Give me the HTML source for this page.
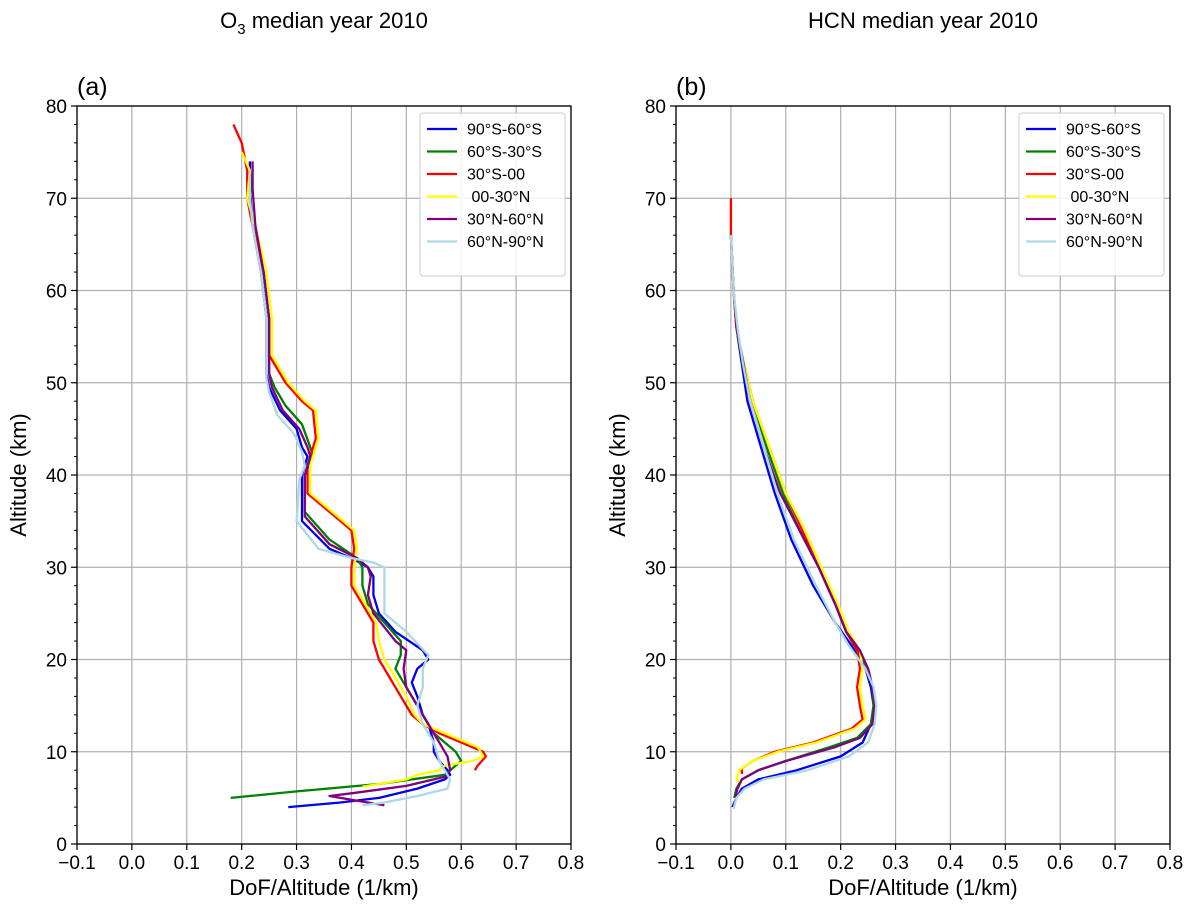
<!DOCTYPE html>
<html><head><meta charset="utf-8">
<style>
html,body{margin:0;padding:0;background:#fff;}
svg text{font-family:"Liberation Sans",sans-serif;fill:#000;}
</style></head>
<body>
<svg id="fig" width="1198" height="914" viewBox="0 0 1198 914" xmlns="http://www.w3.org/2000/svg"></svg>
<script>
// ---- data ----
const seriesNames = ["90°S-60°S","60°S-30°S","30°S-00","\u00a000-30°N","30°N-60°N","60°N-90°N"];
const seriesColors = ["#0000ee","#008000","#ff0000","#ffff00","#800080","#add8e6"];
const xTicks = [-0.1,0,0.1,0.2,0.3,0.4,0.5,0.6,0.7,0.8];
const yTicks = [0,10,20,30,40,50,60,70,80];
const o3Blue = [[0.215,74],[0.215,71],[0.22,67],[0.235,62],[0.245,57],[0.245,51],[0.25,49.5],[0.27,47],[0.30,45],[0.31,43],[0.32,42],[0.31,40],[0.31,35],[0.36,32],[0.40,31],[0.43,30],[0.44,29],[0.44,27],[0.45,25],[0.48,23],[0.53,21],[0.54,20],[0.52,19],[0.51,17.5],[0.52,16],[0.53,14],[0.54,13],[0.55,11],[0.55,10],[0.56,9],[0.575,8],[0.58,7.5],[0.57,7],[0.52,6],[0.45,5],[0.38,4.5],[0.285,4]];
const o3Green = [[0.22,73],[0.215,70],[0.22,67],[0.24,62],[0.25,57],[0.25,51],[0.26,49.5],[0.28,47.5],[0.31,45.5],[0.325,43],[0.33,42],[0.315,40],[0.315,36],[0.36,33],[0.41,31],[0.42,30],[0.42,28],[0.43,26],[0.46,24],[0.49,22],[0.49,20.5],[0.48,19],[0.50,17],[0.52,15],[0.54,13],[0.55,12],[0.57,11],[0.59,10],[0.60,9],[0.59,8.5],[0.57,7.5],[0.45,6.5],[0.30,5.7],[0.18,5]];
const o3Red = [[0.185,78],[0.20,76],[0.21,73],[0.21,70],[0.22,67],[0.24,62],[0.25,57],[0.25,53],[0.28,50],[0.31,48],[0.33,47],[0.335,44],[0.32,41],[0.32,38],[0.34,37],[0.38,35],[0.40,34],[0.405,32],[0.40,30],[0.40,28],[0.42,26],[0.44,24],[0.44,22],[0.45,20],[0.47,18],[0.49,16],[0.51,14],[0.53,13],[0.56,12],[0.60,11],[0.64,10],[0.645,9.5],[0.63,8.5],[0.625,8]];
const o3Yellow = [[0.20,75],[0.215,73],[0.21,70],[0.225,67],[0.245,62],[0.255,57],[0.255,53],[0.285,50],[0.315,48],[0.335,47],[0.34,44],[0.325,41],[0.325,38],[0.345,37],[0.385,35],[0.405,34],[0.41,32],[0.405,30],[0.405,28],[0.425,26],[0.445,24],[0.45,22],[0.46,20],[0.48,18],[0.50,16],[0.515,14],[0.53,13],[0.57,12],[0.63,10.5],[0.64,9.5],[0.62,9],[0.57,8.5],[0.56,8],[0.52,7.5],[0.50,7],[0.45,6.5],[0.42,6.2]];
const o3Purple = [[0.22,74],[0.22,71],[0.225,67],[0.24,62],[0.25,57],[0.25,51],[0.255,49.5],[0.275,47],[0.305,45],[0.32,43],[0.325,42],[0.315,40],[0.315,35.5],[0.36,32.5],[0.41,31],[0.43,30],[0.435,29],[0.43,27],[0.44,25],[0.46,23.5],[0.48,22],[0.50,21],[0.495,19],[0.50,17],[0.52,15],[0.54,13],[0.56,11],[0.575,9.5],[0.58,8],[0.57,7.3],[0.50,6.3],[0.40,5.5],[0.36,5.2],[0.40,4.8],[0.46,4.2]];
const o3Light = [[0.215,73],[0.215,70],[0.22,67],[0.235,62],[0.245,57],[0.245,50.5],[0.25,49],[0.265,46.5],[0.295,44.5],[0.31,42.5],[0.315,41],[0.305,39.5],[0.30,35],[0.34,32],[0.40,31],[0.44,30.5],[0.46,30],[0.46,27],[0.46,25],[0.50,23],[0.54,20.5],[0.53,19],[0.53,17],[0.52,15],[0.53,13],[0.55,11],[0.56,9],[0.58,7],[0.575,6],[0.52,5.2],[0.46,4.5],[0.42,4.2]];
const hcnBlue = [[0,66],[0.005,60],[0.01,56],[0.02,52],[0.03,48],[0.05,44],[0.08,38],[0.11,33],[0.15,28],[0.19,24],[0.22,21.5],[0.245,19],[0.255,17],[0.26,15],[0.255,13],[0.24,11],[0.20,9.5],[0.12,8],[0.05,7],[0.02,6],[0.01,5],[0.003,4]];
const hcnGreen = [[0,66],[0.005,60],[0.01,56],[0.02,53],[0.04,48],[0.065,43],[0.095,38],[0.125,34],[0.16,30],[0.19,26],[0.21,23],[0.23,21],[0.25,19],[0.258,17],[0.26,15],[0.255,13],[0.23,11.5],[0.18,10.5],[0.10,9],[0.05,8],[0.02,7],[0.01,6],[0.006,5]];
const hcnRed = [[0,70],[0,66],[0.005,60],[0.01,56],[0.02,53],[0.04,48],[0.07,43],[0.10,38],[0.13,34],[0.16,30],[0.19,26],[0.21,23],[0.23,21],[0.235,19],[0.23,17],[0.235,15],[0.24,13.5],[0.22,12.5],[0.15,11],[0.08,10],[0.04,9],[0.02,8.2],[0.02,7.6]];
const hcnYellow = [[0,66],[0.005,60],[0.01,56],[0.02,53],[0.04,48],[0.07,43],[0.10,38],[0.135,34],[0.165,30],[0.195,26],[0.215,23],[0.235,21],[0.24,19],[0.235,17],[0.24,15],[0.245,13.5],[0.225,12.5],[0.155,11],[0.085,10],[0.04,9],[0.015,8],[0.01,7],[0.02,6.6]];
const hcnPurple = [[0,66],[0.005,60],[0.01,56],[0.02,53],[0.035,48],[0.06,43],[0.09,38],[0.125,34],[0.16,30],[0.19,26],[0.21,23],[0.235,21],[0.25,19],[0.258,17],[0.262,15],[0.258,13],[0.235,11.5],[0.19,10.5],[0.10,9],[0.05,8],[0.02,7],[0.012,6],[0.008,5]];
const hcnLight = [[0,66],[0.005,60],[0.012,56],[0.022,52],[0.035,48],[0.055,44],[0.085,38],[0.115,33],[0.155,28],[0.19,24],[0.215,21.5],[0.245,19],[0.26,17],[0.265,15],[0.262,13],[0.25,11],[0.215,9.5],[0.14,8],[0.06,7],[0.025,6],[0.01,5],[0.005,3.8]];
const o3Series = [o3Blue,o3Green,o3Red,o3Yellow,o3Purple,o3Light];
const hcnSeries = [hcnBlue,hcnGreen,hcnRed,hcnYellow,hcnPurple,hcnLight];

const NS="http://www.w3.org/2000/svg";
const svg=document.getElementById('fig');
function mk(tag,attrs,parent){const e=document.createElementNS(NS,tag);for(const k in attrs)e.setAttribute(k,attrs[k]);(parent||svg).appendChild(e);return e;}

function panel(key,x0,title,label,data){
  const L=x0,R=x0+494,T=106,B=844;
  const sx=v=>L+(v-xTicks[0])/(xTicks[xTicks.length-1]-xTicks[0])*(R-L);
  const sy=v=>B-(v-yTicks[0])/(yTicks[yTicks.length-1]-yTicks[0])*(B-T);
  const g=mk('g',{});
  
  
  xTicks.forEach(t=>{const l=mk('line',{x1:sx(t),x2:sx(t),y1:T,y2:B,stroke:'#b0b0b0','stroke-width':1.2},g);
    });
  yTicks.forEach(t=>{const l=mk('line',{x1:L,x2:R,y1:sy(t),y2:sy(t),stroke:'#b0b0b0','stroke-width':1.2},g);
    });
  for(let v=0;v<=80;v+=2){if(v%10){mk('line',{x1:L-3,x2:L,y1:sy(v),y2:sy(v),stroke:'#000','stroke-width':1},g);}}
  data.forEach((d,i)=>{const p=mk('polyline',{points:d.map(q=>sx(q[0]).toFixed(1)+','+sy(q[1]).toFixed(1)).join(' '),fill:'none',stroke:seriesColors[i],'stroke-width':2.3,'stroke-linejoin':'round'},g);
    });
  const fr=mk('rect',{x:L,y:T,width:R-L,height:B-T,fill:'none',stroke:'#000','stroke-width':1.3},g);
  
  xTicks.forEach(t=>{mk('line',{x1:sx(t),x2:sx(t),y1:B,y2:B+6,stroke:'#000','stroke-width':1.2},g);
    const tx=mk('text',{x:sx(t),y:B+25,'text-anchor':'middle','font-size':19},g);
    tx.textContent=(t<0?'\u22120.1':t.toFixed(1));
    });
  yTicks.forEach(t=>{mk('line',{x1:L-6,x2:L,y1:sy(t),y2:sy(t),stroke:'#000','stroke-width':1.2},g);
    const tx=mk('text',{x:L-10,y:sy(t)+7,'text-anchor':'end','font-size':19},g);tx.textContent=t;
    });
  const xl=mk('text',{x:(L+R)/2,y:895,'text-anchor':'middle','font-size':22},g);xl.textContent='DoF/Altitude (1/km)';
  
  const yl=mk('text',{x:0,y:0,'text-anchor':'middle','font-size':22,transform:`translate(${L-51},${(T+B)/2}) rotate(-90)`},g);yl.textContent='Altitude (km)';
  
  const pl=mk('text',{x:L,y:95,'font-size':25},g);pl.textContent=label;
  
  const tt=mk('text',{x:(L+R)/2,y:28,'text-anchor':'middle','font-size':22},g);
  if(key==='o3'){tt.innerHTML='O<tspan font-size="15" dy="6">3</tspan><tspan dy="-6"> median year 2010</tspan>';}else{tt.textContent=title;}
  
  const lg=mk('g',{},g);
  
  mk('rect',{x:R-151,y:113,width:145,height:163,rx:3,fill:'#fff','fill-opacity':0.85,stroke:'#ccc','stroke-width':1},lg);
  seriesNames.forEach((n,i)=>{const y=129+i*22.5;
    const e=mk('g',{},lg);
    mk('line',{x1:R-144,x2:R-114,y1:y,y2:y,stroke:seriesColors[i],'stroke-width':2.3},e);
    const t=mk('text',{x:R-104,y:y+5.5,'font-size':16},e);t.textContent=n;});
}
panel('o3',77,'O3 median year 2010','(a)',o3Series);
panel('hcn',676,'HCN median year 2010','(b)',hcnSeries);
</script>
</body></html>
